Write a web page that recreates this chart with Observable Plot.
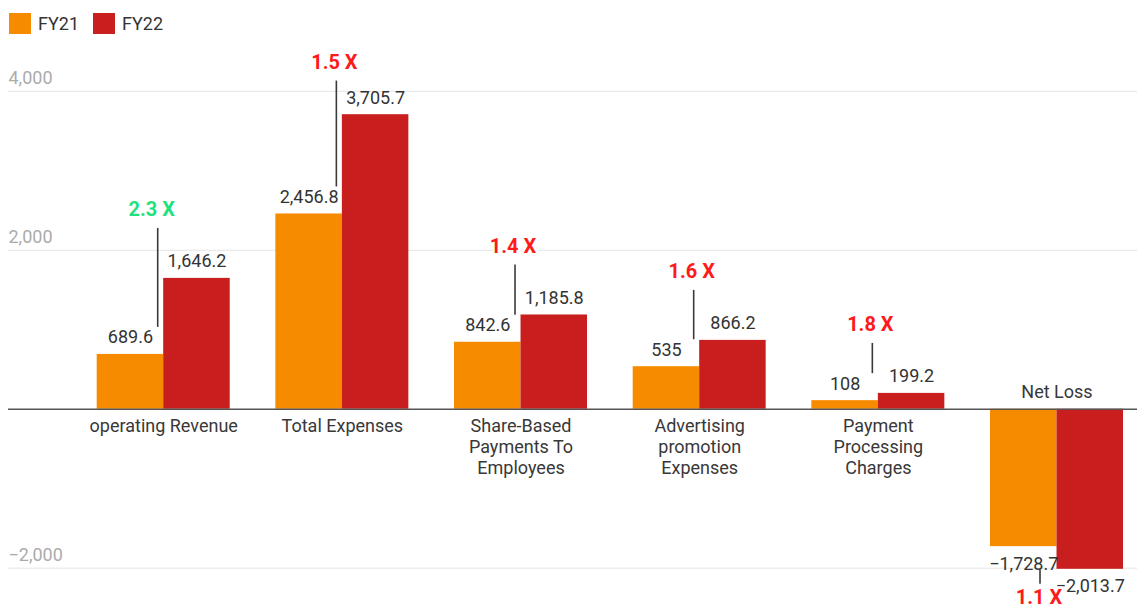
<!DOCTYPE html>
<html>
<head>
<meta charset="utf-8">
<script src="https://cdn.jsdelivr.net/npm/d3@7"></script>
<script src="https://cdn.jsdelivr.net/npm/@observablehq/plot@0.6"></script>
<style>
  body { margin: 0; background: #fff; font-family: Roboto, "Noto Sans", sans-serif; }
  #legend { display: flex; align-items: center; height: 21px; padding: 13px 0 14px 9px; font-size: 18px; color: #333; }
  #legend .item { display: flex; align-items: center; margin-right: 14px; }
  #legend .sw { width: 22px; height: 21px; margin-right: 7px; }
</style>
</head>
<body>
<div id="legend"></div>
<div id="chart"></div>
<script>
// Categories (line breaks are the wrapped axis labels)
const categories = [
  "operating Revenue",
  "Total Expenses",
  "Share-Based\nPayments To\nEmployees",
  "Advertising\npromotion\nExpenses",
  "Payment\nProcessing\nCharges",
  "Net Loss"
];
const series = ["FY21", "FY22"];
const fy21 = [689.6, 2456.8, 842.6, 535, 108, -1728.7];
const fy22 = [1646.2, 3705.7, 1185.8, 866.2, 199.2, -2013.7];
const multipliers = ["2.3 X", "1.5 X", "1.4 X", "1.6 X", "1.8 X", "1.1 X"];
const gridTicks = [-2000, 2000, 4000];

// Styling
const seriesColors = ["#f78b00", "#c81e1e"];
const growthColor = "#1fe27f";
const costColor = "#ff1a1a";
const revenueCategory = categories[0];
// growth callouts never rise above this value, so they stay inside the chart
const calloutCeiling = 3500;

const W = 1137, H = 562;
const mL = 8, mR = 0;
const pInner = 0.2556, pOuter = 0.2874, bandAlign = 0.8637;

// Same band layout as Plot's x scale, to split each band between the two years
const band = d3.scaleBand().domain(categories).range([mL, W - mR])
  .paddingInner(pInner).paddingOuter(pOuter).align(bandAlign);
const half = band.bandwidth() / 2;

const rows = categories.map((c, i) => ({
  category: c, fy21: fy21[i], fy22: fy22[i], mult: multipliers[i],
  callout: Math.min(fy22[i], calloutCeiling)
}));
const long = rows.flatMap(r => [
  {category: r.category, year: series[0], value: r.fy21},
  {category: r.category, year: series[1], value: r.fy22}
]);
const fmt = d3.format(",");

const up = rows.filter(r => r.fy22 >= 0);
const down = rows.filter(r => r.fy22 < 0);

function valueLabels(year, dx) {
  const common = {x: "category", y: "value", text: d => fmt(d.value), dx, lineAnchor: "bottom", fill: "#333", fontSize: 18};
  return [
    Plot.text(long.filter(d => d.year === year && d.value >= 0), {...common, dy: -11}),
    Plot.text(long.filter(d => d.year === year && d.value < 0), {...common, dy: 23})
  ];
}

const multText = {text: "mult", x: "category", lineAnchor: "bottom", fontSize: 20, fontWeight: "bold",
  stroke: "white", strokeWidth: 5, paintOrder: "stroke"};

const chart = Plot.plot({
  width: W, height: H,
  marginLeft: mL, marginRight: mR, marginTop: 11, marginBottom: 10.5,
  style: {fontFamily: "Roboto, 'Noto Sans', sans-serif", background: "#fff"},
  x: {domain: categories, paddingInner: pInner, paddingOuter: pOuter, align: bandAlign, round: false, axis: null},
  y: {domain: [-2400, 4400], axis: null},
  color: {domain: series, range: seriesColors},
  marks: [
    Plot.ruleY(gridTicks, {y: d => d, stroke: "#e4e4e4", strokeWidth: 1}),
    Plot.text(gridTicks, {y: d => d, text: d => fmt(d), frameAnchor: "left", textAnchor: "start",
      lineAnchor: "bottom", dy: -7, fill: "#ababab", fontSize: 18}),
    Plot.barY(long.filter(d => d.year === series[0]), {x: "category", y: "value", fill: "year", insetRight: half}),
    Plot.barY(long.filter(d => d.year === series[1]), {x: "category", y: "value", fill: "year", insetLeft: half}),
    Plot.ruleY([0], {stroke: "#555", strokeWidth: 1.3}),
    ...valueLabels(series[0], -half / 2),
    ...valueLabels(series[1], half / 2),
    // category labels: below the baseline, or above it for negative groups
    Plot.text(up, {x: "category", y: () => 0, text: "category", lineAnchor: "top", lineHeight: 1.15,
      dy: 8.5, fill: "#383838", fontSize: 18}),
    Plot.text(down, {x: "category", y: () => 0, text: "category", lineAnchor: "bottom",
      dy: -11, fill: "#383838", fontSize: 18}),
    // growth connectors and multipliers
    Plot.ruleX(up, {x: "category", y1: "callout", y2: "fy21", dx: -6, insetTop: -50, insetBottom: 27,
      stroke: "#3a3a3a", strokeWidth: 1.6}),
    Plot.ruleX(down, {x: "category", y1: "fy21", y2: "fy22", dx: -17, insetTop: 23, insetBottom: -15,
      stroke: "#3a3a3a", strokeWidth: 1.6}),
    Plot.text(up.filter(r => r.category === revenueCategory), {...multText, y: "callout", dx: -12, dy: -62, fill: growthColor}),
    Plot.text(up.filter(r => r.category !== revenueCategory), {...multText, y: "callout", dx: -8, dy: -62, fill: costColor}),
    Plot.text(down, {...multText, y: "fy22", dx: -18, dy: 35, fill: costColor})
  ]
});
document.getElementById("chart").appendChild(chart);

// legend
const legend = document.getElementById("legend");
series.forEach((s, i) => {
  const item = document.createElement("div");
  item.className = "item";
  const sw = document.createElement("div");
  sw.className = "sw";
  sw.style.background = seriesColors[i];
  const label = document.createElement("span");
  label.textContent = s;
  item.append(sw, label);
  legend.append(item);
});
</script>
</body>
</html>
